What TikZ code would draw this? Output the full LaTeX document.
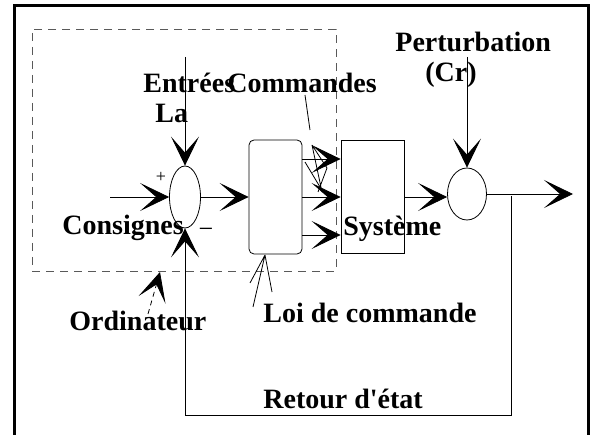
\documentclass[tikz,border=0pt]{standalone}
\usepackage{fontspec}
\setmainfont{Liberation Serif}
\usetikzlibrary{arrows.meta}
\usetikzlibrary{shapes.geometric}

\begin{document}
\begin{tikzpicture}[x=1pt, y=-1pt, line width=0.8pt,
    fleche/.style={-{Stealth[length=29pt, width=28pt, inset=16pt]}},
    somme/.style={draw, ellipse, inner sep=0pt},
    bloc/.style={draw, inner sep=0pt},
    lab/.style={anchor=base west, inner sep=0pt, font=\fontsize{28}{32}\selectfont\bfseries},
    signe/.style={inner sep=0pt, font=\fontsize{18}{20}\selectfont}]
    \useasboundingbox (0,0) rectangle (591,435);

    % cadre
    \draw[line width=3pt] (14,445) -- (14,6) -- (588,6) -- (588,445);

    % blocs
    \node[draw=black!65, dash pattern=on 8pt off 6pt, inner sep=0pt,
      minimum width=304pt, minimum height=242pt] (pc) at (184,150) {};
    \node[somme, minimum width=31pt, minimum height=62pt] (s1) at (185,197) {};
    \node[bloc, rounded corners=5pt, minimum width=53pt, minimum height=114pt] (ctrl) at (275.5,197) {};
    \node[bloc, minimum width=63pt, minimum height=113pt] (sys) at (372.5,197) {};
    \node[somme, minimum width=39pt, minimum height=52pt] (s2) at (467,194) {};

    % textes
    \node[lab] (entrees) at (143,93) {Entrées};
    \node[lab] (la) at (155,123) {La};
    \node[lab] (cmd) at (227,93) {Commandes};
    \node[lab] (consignes) at (62,235) {Consignes};
    \node[lab] (systeme) at (343,236) {Système};
    \node[lab] (perturb) at (395,52) {Perturbation};
    \node[lab] (cr) at (425,82) {(Cr)};
    \node[lab] (ordi) at (69,330) {Ordinateur};
    \node[lab] (loi) at (263,322) {Loi de commande};
    \node[lab] (retour) at (263,408) {Retour d\textquotesingle état};
    \node[signe] (plus) at (161,177) {+};
    \node[signe, font=\fontsize{26}{28}\selectfont] (moins) at (206,233) {−};

    % chaine directe
    \coordinate (e) at (110,197);
    \coordinate (ea) at (185,57);
    \draw[fleche] (e) -- (s1.west);
    \draw[fleche] (ea) -- (s1.north);
    \draw[fleche] (s1.east) -- (ctrl.west);
    \foreach \i/\d in {1/38,2/0,3/-38} {
      \coordinate (c\i) at ([yshift=\d pt]ctrl.east);
      \draw[fleche] (c\i) -- (c\i -| sys.west);
    }
    \draw[fleche] (sys.east) -- (sys.east -| s2.west);
    \coordinate (p) at (467,57);
    \coordinate (sortie) at (573,194);
    \draw[fleche] (p) -- (s2.north);
    \draw[fleche] (s2.east) -- (sortie);

    % retour d'etat
    \coordinate (r1) at (511,196);
    \coordinate (r2) at (185,415);
    \draw[fleche] (r1) |- (r2) -- (s1.south);

    % renvois
    \coordinate (o1) at (148,314);
    \coordinate (o2) at (160,272);
    \draw[fleche, dash pattern=on 5pt off 4pt] (o1) -- (o2);
    \coordinate (k0) at (305,95);
    \coordinate (k1) at (310,130);
    \coordinate (k) at (312,145);
    \draw (k0) -- (k1);
    \draw (k) -- ++(10,47) (k) -- ++(15,23) -- ++(-9,24) (305,162) -- (320,187);
    \coordinate (l) at (265,255);
    \draw (l) -- ++(-15,28) (l) -- ++(-12,52) (l) -- ++(7,37);

  \end{tikzpicture}
\end{document}
